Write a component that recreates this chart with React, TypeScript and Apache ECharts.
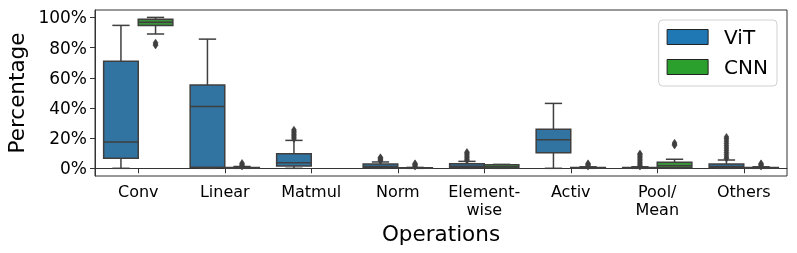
import React, { useEffect, useRef } from "react";
import * as echarts from "echarts";

const categories = ["Conv", "Linear", "Matmul", "Norm", "Element-\nwise", "Activ", "Pool/\nMean", "Others"];
const yTicks = [0, 20, 40, 60, 80, 100];

// [min, q1, median, q3, max] per category (null = no data)
const vitBoxes: (number[] | null)[] = [
  [0, 6.6, 17.4, 71, 94.7],
  [0, 0.7, 41, 55.2, 85.6],
  [0, 1.5, 3.7, 9.6, 18.5],
  [0, 0.4, 1.2, 2.8, 4.2],
  [0, 0.3, 1.3, 3.0, 4.6],
  [0, 10.3, 19, 25.8, 43],
  [0, 0, 0.2, 0.5, 1],
  [0, 0.4, 1.2, 2.8, 5.5],
];
const cnnBoxes: (number[] | null)[] = [
  [89, 94.7, 96.7, 98.7, 100],
  [0, 0.1, 0.3, 0.6, 1.2],
  null,
  [0, 0, 0.1, 0.3, 0.6],
  [0, 0.2, 1.0, 2.3, 2.6],
  [0, 0, 0.2, 0.5, 1],
  [0, 0.3, 1.7, 4.0, 6.0],
  [0, 0, 0.2, 0.5, 1],
];
// outliers per category
const vitOutliers: number[][] = [
  [],
  [],
  [19.5, 20.5, 21.5, 22.5, 23.5, 24.5, 25.5],
  [5, 5.6, 6.2, 6.8, 7.2],
  [5.2, 6, 7, 8, 9, 10, 10.7],
  [],
  [1.2, 2, 3, 4, 5, 6, 7, 8, 9, 9.7],
  [6.5, 7.5, 9, 10.5, 12, 13.5, 15, 16.5, 18, 19.5, 20.7],
];
const cnnOutliers: number[][] = [
  [81.5, 82.3, 83.2],
  [1.3, 2, 2.7, 3.4],
  [],
  [1.2, 2, 2.6, 3.2],
  [],
  [1.2, 2, 2.6, 3.2],
  [15.2, 16, 16.8],
  [1.2, 2, 2.6, 3.2],
];

const FONT = "DejaVu Sans";
const EDGE = "#3f3f3f";
const VIT_FILL = "#3274a1";
const CNN_FILL = "#3a923a";

function boxData(boxes: (number[] | null)[]) {
  const out: number[][] = [];
  boxes.forEach((b, i) => {
    if (b) out.push([i, ...b]);
  });
  return out;
}
function outlierData(outs: number[][]) {
  const out: number[][] = [];
  outs.forEach((arr, i) => arr.forEach((v) => out.push([i, v])));
  return out;
}

function boxRenderer(offsetFrac: number, fill: string) {
  return (params: any, api: any) => {
    const idx = api.value(0);
    const band = api.size([1, 0])[0];
    const w = band * 0.4;
    const cx = api.coord([idx, 0])[0] + offsetFrac * band;
    const y = (v: number) => api.coord([idx, v])[1];
    const yMin = y(api.value(1));
    const yQ1 = y(api.value(2));
    const yMed = y(api.value(3));
    const yQ3 = y(api.value(4));
    const yMax = y(api.value(5));
    const lw = 1.5;
    const ls = { stroke: EDGE, lineWidth: lw };
    return {
      type: "group",
      children: [
        { type: "line", shape: { x1: cx, y1: yQ1, x2: cx, y2: yMin }, style: ls },
        { type: "line", shape: { x1: cx, y1: yQ3, x2: cx, y2: yMax }, style: ls },
        { type: "line", shape: { x1: cx - w / 4, y1: yMin, x2: cx + w / 4, y2: yMin }, style: ls },
        { type: "line", shape: { x1: cx - w / 4, y1: yMax, x2: cx + w / 4, y2: yMax }, style: ls },
        {
          type: "rect",
          shape: { x: cx - w / 2, y: yQ3, width: w, height: Math.max(yQ1 - yQ3, 0.5) },
          style: { fill, stroke: EDGE, lineWidth: lw },
        },
        { type: "line", shape: { x1: cx - w / 2, y1: yMed, x2: cx + w / 2, y2: yMed }, style: ls },
      ],
    };
  };
}

function outlierRenderer(offsetFrac: number) {
  return (params: any, api: any) => {
    const idx = api.value(0);
    const band = api.size([1, 0])[0];
    const p = api.coord([idx, api.value(1)]);
    const cx = p[0] + offsetFrac * band;
    const cy = p[1];
    const hw = 2.4;
    const hh = 3.6;
    return {
      type: "polygon",
      shape: { points: [[cx, cy - hh], [cx + hw, cy], [cx, cy + hh], [cx - hw, cy]] },
      style: { fill: EDGE, stroke: EDGE, lineWidth: 0.6 },
    };
  };
}

export default function App() {
  const ref = useRef<HTMLDivElement>(null);
  useEffect(() => {
    if (!ref.current) return;
    const chart = echarts.init(ref.current, null, { renderer: "svg" });
    chart.setOption({
      animation: false,
      textStyle: { fontFamily: FONT },
      grid: {
        left: 95,
        right: 10,
        top: 10,
        bottom: 77,
        show: true,
        borderColor: "#333",
        borderWidth: 1,
        backgroundColor: "transparent",
        outerBoundsMode: "none",
      },
      legend: {
        data: [
          { name: "ViT", itemStyle: { color: "#1f77b4", borderColor: "#222", borderWidth: 1 } },
          { name: "CNN", itemStyle: { color: "#2ca02c", borderColor: "#222", borderWidth: 1 } },
        ],
        orient: "vertical",
        right: 20,
        top: 20,
        icon: "rect",
        itemWidth: 41,
        itemHeight: 15,
        itemGap: 10,
        padding: [7, 9, 9, 8],
        borderColor: "#d0d0d0",
        borderWidth: 1,
        borderRadius: 4,
        backgroundColor: "rgba(255,255,255,0.8)",
        selectedMode: false,
        textStyle: { fontSize: 20, fontFamily: FONT, color: "#000", lineHeight: 20, padding: [0, 0, 0, 11] },
      },
      xAxis: {
        type: "category",
        data: categories,
        boundaryGap: true,
        name: "Operations",
        nameLocation: "middle",
        nameGap: 37,
        nameTextStyle: { fontSize: 21.5, fontFamily: FONT, color: "#000" },
        axisLine: { show: true, lineStyle: { color: "#333", width: 1 } },
        axisTick: { show: true, alignWithLabel: true, length: 5, lineStyle: { color: "#333" } },
        axisLabel: { interval: 0, fontSize: 16, fontFamily: FONT, color: "#000", margin: 6, lineHeight: 18 },
        splitLine: { show: false },
      },
      yAxis: {
        type: "value",
        min: -5.1,
        max: 104.9,
        name: "Percentage",
        nameLocation: "middle",
        nameGap: 58,
        nameTextStyle: { fontSize: 21.5, fontFamily: FONT, color: "#000" },
        axisLine: { show: true, lineStyle: { color: "#333", width: 1 } },
        axisTick: { show: true, length: 5, lineStyle: { color: "#333" }, customValues: yTicks },
        axisLabel: {
          fontSize: 17,
          fontFamily: FONT,
          color: "#000",
          margin: 8,
          customValues: yTicks,
          formatter: (v: number) => `${Math.round(v)}%`,
        },
        splitLine: { show: false },
      },
      series: [
        {
          name: "ViT",
          type: "custom",
          itemStyle: { color: "#1f77b4" },
          renderItem: boxRenderer(-0.2, VIT_FILL),
          encode: { x: 0, y: [1, 2, 3, 4, 5] },
          data: boxData(vitBoxes),
          z: 2,
        },
        {
          name: "CNN",
          type: "custom",
          itemStyle: { color: "#2ca02c" },
          renderItem: boxRenderer(0.2, CNN_FILL),
          encode: { x: 0, y: [1, 2, 3, 4, 5] },
          data: boxData(cnnBoxes),
          z: 2,
        },
        {
          name: "ViT outliers",
          type: "custom",
          renderItem: outlierRenderer(-0.2),
          encode: { x: 0, y: 1 },
          data: outlierData(vitOutliers),
          z: 3,
        },
        {
          name: "CNN outliers",
          type: "custom",
          renderItem: outlierRenderer(0.2),
          encode: { x: 0, y: 1 },
          data: outlierData(cnnOutliers),
          z: 3,
        },
      ],
    });
    return () => chart.dispose();
  }, []);
  return <div ref={ref} style={{ position: "fixed", left: 0, top: 0, width: 797, height: 253 }} />;
}
